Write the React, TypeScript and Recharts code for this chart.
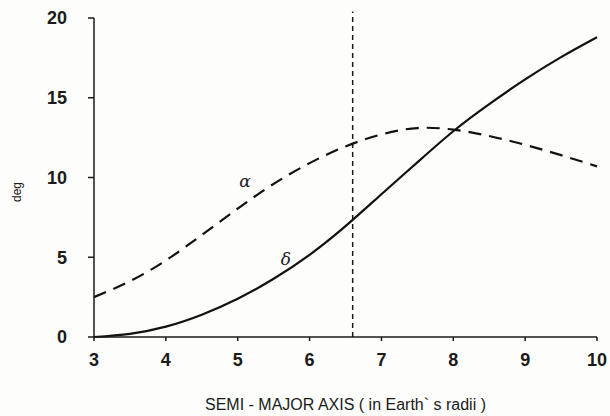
import React from "react"
import { LineChart, Line, XAxis, YAxis, ReferenceLine, ReferenceDot, Label } from "recharts"

// semi-major axis, Earth radii
const axisA = [3, 3.5, 4, 4.5, 5, 5.5, 6, 6.5, 7, 7.5, 8, 8.5, 9, 9.5, 10]
// alpha (dashed), deg
const alphaDeg = [2.5, 3.5, 4.8, 6.4, 8.05, 9.6, 10.9, 11.95, 12.7, 13.1, 13.0, 12.6, 12.05, 11.4, 10.7]
// delta (solid), deg
const deltaDeg = [0, 0.2, 0.65, 1.4, 2.4, 3.65, 5.15, 6.95, 8.95, 10.95, 12.9, 14.6, 16.15, 17.55, 18.8]

const xTicks = [3, 4, 5, 6, 7, 8, 9, 10]
const yTicks = [0, 5, 10, 15, 20]
const geoRadius = 6.6

const curveLabels = [
  { name: "α", x: 5.1, y: 9.8 },
  { name: "δ", x: 5.67, y: 4.9 },
]

const data = axisA.map((a, i) => ({ a, alpha: alphaDeg[i], delta: deltaDeg[i] }))

const sans = "'Liberation Sans', Arial, sans-serif"
const tickStyle = { fontFamily: sans, fontSize: 18, fontWeight: 700, fill: "#1a1a1a" }

export default function App() {
  return (
    <div style={{ position: "absolute", left: 0, top: 0, width: 610, height: 416, background: "#fdfdfb" }}>
      <LineChart width={610} height={416} data={data} margin={{ top: 18, right: 13, bottom: 42, left: 10 }}>
        <XAxis
          dataKey="a"
          type="number"
          domain={[3, 10]}
          ticks={xTicks}
          interval={0}
          tick={tickStyle}
          tickSize={4}
          tickMargin={12}
          stroke="#1a1a1a"
          strokeWidth={1.5}
          height={37}
        >
          <Label
            value="SEMI - MAJOR AXIS ( in Earth` s radii )"
            position="insideBottom"
            offset={-36}
            style={{ fontFamily: sans, fontSize: 16, fill: "#1a1a1a" }}
          />
        </XAxis>
        <YAxis
          type="number"
          domain={[0, 20]}
          ticks={yTicks}
          interval={0}
          tick={tickStyle}
          tickSize={6}
          tickMargin={21}
          stroke="#1a1a1a"
          strokeWidth={1.5}
          width={84}
          label={{
            content: () => (
              <text transform="translate(21,192) rotate(-90)" textAnchor="middle" fontFamily={sans} fontSize={12} fill="#1a1a1a">
                deg
              </text>
            ),
          }}
        />
        <ReferenceLine
          segment={[{ x: geoRadius, y: 0 }, { x: geoRadius, y: 20.4 }]}
          ifOverflow="visible"
          stroke="#1a1a1a"
          strokeWidth={1.5}
          strokeDasharray="5 4"
        />
        <Line type="natural" dataKey="alpha" stroke="#111" strokeWidth={2.2} strokeDasharray="13 8" dot={false} isAnimationActive={false} />
        <Line type="natural" dataKey="delta" stroke="#111" strokeWidth={2.2} dot={false} isAnimationActive={false} />
        {curveLabels.map(c => (
          <ReferenceDot key={c.name} x={c.x} y={c.y} r={0} stroke="none" fill="none">
            <Label
              value={c.name}
              position="center"
              style={{ fontFamily: "'DejaVu Serif', serif", fontStyle: "italic", fontSize: 17, fill: "#1a1a1a" }}
            />
          </ReferenceDot>
        ))}
      </LineChart>
    </div>
  )
}
